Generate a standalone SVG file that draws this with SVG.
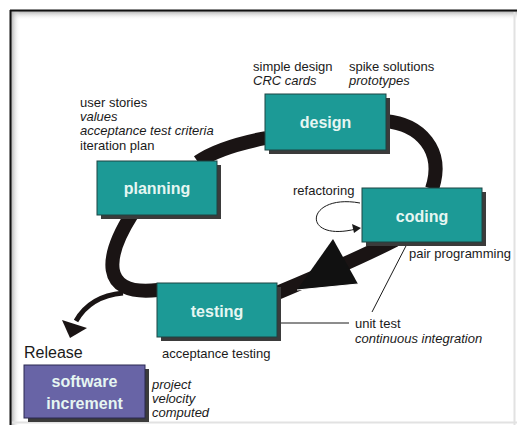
<svg xmlns="http://www.w3.org/2000/svg" width="517" height="425" viewBox="0 0 517 425">
<defs>
<linearGradient id="gTop" x1="0" y1="0" x2="0" y2="1"><stop offset="0" stop-color="#9a9a9a"/><stop offset="1" stop-color="#ffffff" stop-opacity="0"/></linearGradient>
<linearGradient id="gLeft" x1="0" y1="0" x2="1" y2="0"><stop offset="0" stop-color="#9a9a9a"/><stop offset="1" stop-color="#ffffff" stop-opacity="0"/></linearGradient>
<style>
.t{font-family:"Liberation Sans",Arial,sans-serif;font-size:13px;fill:#1a1a1a}
.i{font-style:italic}
.lbl{font-family:"Liberation Sans",Arial,sans-serif;font-size:16px;font-weight:bold;fill:#e6f6f2;text-anchor:middle}
.box{fill:#1c9a96;stroke:#1d4543;stroke-width:1}
.pbox{fill:#6864a6;stroke:#2a2850;stroke-width:1}
.sh{fill:#3b3b3b}
.band{fill:none;stroke:#1a1414;stroke-width:14;stroke-linecap:butt}
.thin{fill:none;stroke:#1a1a1a;stroke-width:1}
</style>
</defs>
<rect x="0" y="0" width="517" height="425" fill="#ffffff"/>
<!-- frame -->
<rect x="10" y="10" width="507" height="10" fill="url(#gTop)"/>
<rect x="10" y="10" width="10" height="415" fill="url(#gLeft)"/>
<line x1="10" y1="10.5" x2="517" y2="10.5" stroke="#111" stroke-width="2"/>
<line x1="10.5" y1="10" x2="10.5" y2="425" stroke="#111" stroke-width="2"/>
<line x1="514.5" y1="12" x2="514.5" y2="425" stroke="#e2e2e2" stroke-width="2"/>
<line x1="12" y1="422.5" x2="517" y2="422.5" stroke="#e2e2e2" stroke-width="2"/>

<g id="connectors">
<path class="band" d="M385,121 C420,124 445,150 432,189"/>
<path class="band" d="M266,138 C240,143 215,150 198,162"/>
<path class="band" d="M132,214 C106,255 98,297 158,290"/>
<path class="band" d="M395,240 C360,258 320,275 277,293"/>
<polygon points="333,239 358,284 297,290" fill="#111"/>
<line x1="297" y1="290" x2="358" y2="284" stroke="#fff" stroke-width="1.2"/>
<path d="M123,293 C101,295 85,305 76,321" fill="none" stroke="#1a1414" stroke-width="5"/>
<polygon points="62,320 87,328 70,338" fill="#1a1414"/>
<path class="thin" d="M360,203 C305,193 300,243 356,229" stroke-width="1.5"/>
<polygon points="361,228 352,224 354,233" fill="#1a1a1a"/>
<line class="thin" x1="408" y1="242" x2="372" y2="312"/>
<line class="thin" x1="277" y1="323" x2="349" y2="323"/>
</g>

<g id="design">
<rect class="sh" x="269" y="98" width="121" height="56"/>
<rect class="box" x="265" y="94" width="121" height="56"/>
<text class="lbl" x="325.5" y="128">design</text>
</g>
<g id="planning">
<rect class="sh" x="101" y="165" width="120" height="54"/>
<rect class="box" x="97" y="161" width="120" height="54"/>
<text class="lbl" x="157" y="194">planning</text>
</g>
<g id="coding">
<rect class="sh" x="366" y="192" width="120" height="54"/>
<rect class="box" x="362" y="188" width="120" height="54"/>
<text class="lbl" x="422" y="222">coding</text>
</g>
<g id="testing">
<rect class="sh" x="161" y="287" width="120" height="54"/>
<rect class="box" x="157" y="283" width="120" height="54"/>
<text class="lbl" x="217" y="317">testing</text>
</g>
<g id="software-increment">
<rect class="sh" x="28" y="369" width="121" height="53"/>
<rect class="pbox" x="24" y="365" width="121" height="53"/>
<text class="lbl" x="84.5" y="387">software</text>
<text class="lbl" x="84.5" y="409">increment</text>
</g>

<g id="texts">
<text class="t" x="253" y="71">simple design</text>
<text class="t i" x="253" y="85">CRC cards</text>
<text class="t" x="349" y="71">spike solutions</text>
<text class="t i" x="349" y="85">prototypes</text>
<text class="t" x="80" y="107">user stories</text>
<text class="t i" x="80" y="121">values</text>
<text class="t i" x="80" y="135">acceptance test criteria</text>
<text class="t" x="80" y="150">iteration plan</text>
<text class="t" x="293" y="195">refactoring</text>
<text class="t" x="409" y="258">pair programming</text>
<text class="t" x="355" y="328">unit test</text>
<text class="t i" x="355" y="343">continuous integration</text>
<text class="t" x="24" y="358" style="font-size:16px">Release</text>
<text class="t" x="162" y="358">acceptance testing</text>
<text class="t i" x="152" y="389">project</text>
<text class="t i" x="152" y="403">velocity</text>
<text class="t i" x="152" y="417">computed</text>
</g>
</svg>
